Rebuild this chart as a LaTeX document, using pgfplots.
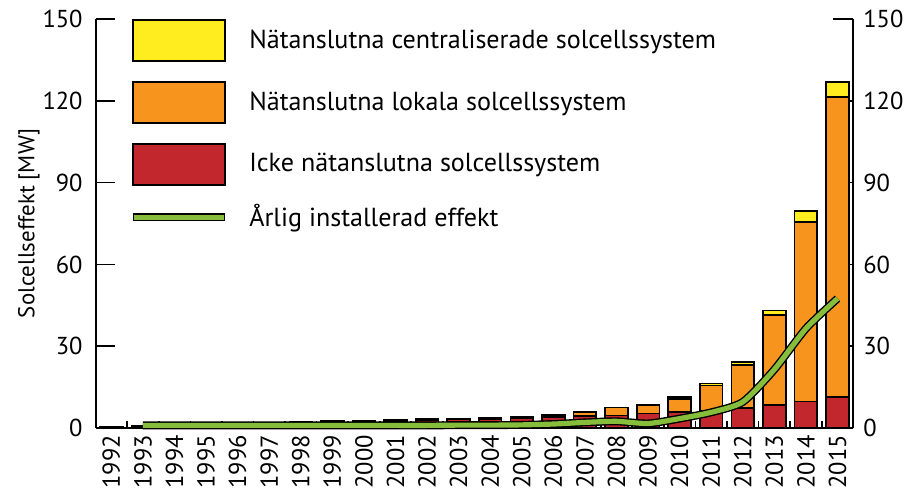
\documentclass[border=0pt]{standalone}
\usepackage{fontspec}
\setmainfont{PT Sans}
\usepackage{pgfplots}
\usepackage{pgfplotstable}
\pgfplotsset{compat=1.18}
\definecolor{cYel}{HTML}{FFED1F}
\definecolor{cOra}{HTML}{F7941E}
\definecolor{cRed}{HTML}{C1272D}
\definecolor{cGrn}{HTML}{86BE3C}

\pgfplotstableread{
x red orange yellow
0 0.6 0 0
1 0.9 0 0
2 1.2 0 0
3 1.5 0 0
4 1.7 0.1 0
5 1.9 0.1 0
6 2.1 0.2 0
7 2.4 0.2 0
8 2.5 0.2 0
9 2.7 0.2 0
10 3.0 0.3 0
11 3.2 0.2 0
12 3.4 0.2 0
13 3.7 0.4 0
14 4.2 0.5 0
15 4.5 1.5 0
16 4.6 3.0 0
17 5.4 3.0 0.3
18 6.0 4.8 0.7
19 6.2 9.4 0.8
20 7.3 15.9 1.1
21 8.6 33.0 1.5
22 9.8 65.8 4.0
23 11.5 110.0 5.5
}\bars

\pgfplotstableread{
x val
1 1.0
2 1.0
3 1.0
4 1.0
5 1.0
6 1.0
7 1.0
8 1.0
9 1.0
10 1.0
11 1.1
12 1.1
13 1.2
14 1.5
15 2.1
16 2.5
17 1.7
18 3.5
19 5.8
20 9.6
21 21.5
22 36.5
23 47.5
}\annual

\begin{document}
\begin{tikzpicture}
\pgfplotsset{
  common/.style={
    at={(0,0)}, anchor=south west, scale only axis,
    width=380.5pt, height=205.5pt,
    xmin=-0.5, xmax=23.5, ymin=0, ymax=150,
    ytick={0,30,...,150},
    /pgf/number format/assume math mode=true,
    tick label style={font=\fontsize{12.3}{14}\selectfont, text=black},
    axis line style={line width=1pt},
    major tick length=10pt,
    minor tick length=3.5pt,
    tick align=inside,
    tick style={black, line width=0.8pt},
  }
}
% right axis (behind the bars)
\begin{axis}[common,
  axis x line=none, axis y line*=right,
  yticklabel style={xshift=1.5pt},
]
\end{axis}
% bars, left and bottom axes
\begin{axis}[common,
  axis x line*=bottom, axis y line*=left,
  ybar stacked, bar width=11.4pt,
  xtick={0,...,23},
  xticklabels={1992,1993,1994,1995,1996,1997,1998,1999,2000,2001,2002,2003,2004,2005,2006,2007,2008,2009,2010,2011,2012,2013,2014,2015},
  xticklabel style={rotate=90, anchor=east},
  major x tick style={draw=none},
  minor xtick={0.5,1.5,...,22.5},
  yticklabel style={xshift=-3pt},
  ylabel={Solcellseffekt [MW]},
  ylabel style={at={(axis description cs:-0.088,0.5)}, anchor=center, font=\fontsize{11.5}{13}\selectfont},
  legend style={at={(axis description cs:0.0434,1)}, anchor=north west,
    draw=none, fill=none, inner sep=0pt, row sep=9.5pt, column sep=10pt,
    font=\fontsize{13.1}{15}\selectfont, nodes={inner sep=0pt}},
  legend cell align=left,
]
\addplot[fill=cRed, draw=black, line width=0.9pt, forget plot] table[x=x,y=red]{\bars};
\addplot[fill=cOra, draw=black, line width=0.9pt, forget plot] table[x=x,y=orange]{\bars};
\addplot[fill=cYel, draw=black, line width=0.9pt, forget plot] table[x=x,y=yellow]{\bars};
\addlegendimage{legend image code/.code={\draw[fill=cYel,draw=black,line width=1pt] (0pt,-10.25pt) rectangle (46.5pt,10.25pt);}}
\addlegendimage{legend image code/.code={\draw[fill=cOra,draw=black,line width=1pt] (0pt,-10.25pt) rectangle (46.5pt,10.25pt);}}
\addlegendimage{legend image code/.code={\draw[fill=cRed,draw=black,line width=1pt] (0pt,-10.25pt) rectangle (46.5pt,10.25pt);}}
\addlegendimage{legend image code/.code={\draw[black,line width=4pt] (0pt,0pt) -- (46.5pt,0pt); \draw[cGrn,line width=2.4pt] (0.8pt,0pt) -- (45.7pt,0pt);}}
\legend{Nätanslutna centraliserade solcellssystem, Nätanslutna lokala solcellssystem, Icke nätanslutna solcellssystem, Årlig installerad effekt}
\end{axis}
% annual line on top
\begin{axis}[common, hide axis, clip=false]
\addplot[black, line width=4pt, smooth, tension=0.4] table[x=x,y=val]{\annual};
\addplot[cGrn, line width=2.6pt, smooth, tension=0.4] table[x=x,y=val]{\annual};
\end{axis}
\path[use as bounding box] (-48pt,-28.5pt) rectangle (407pt,215pt);
\end{tikzpicture}
\end{document}
